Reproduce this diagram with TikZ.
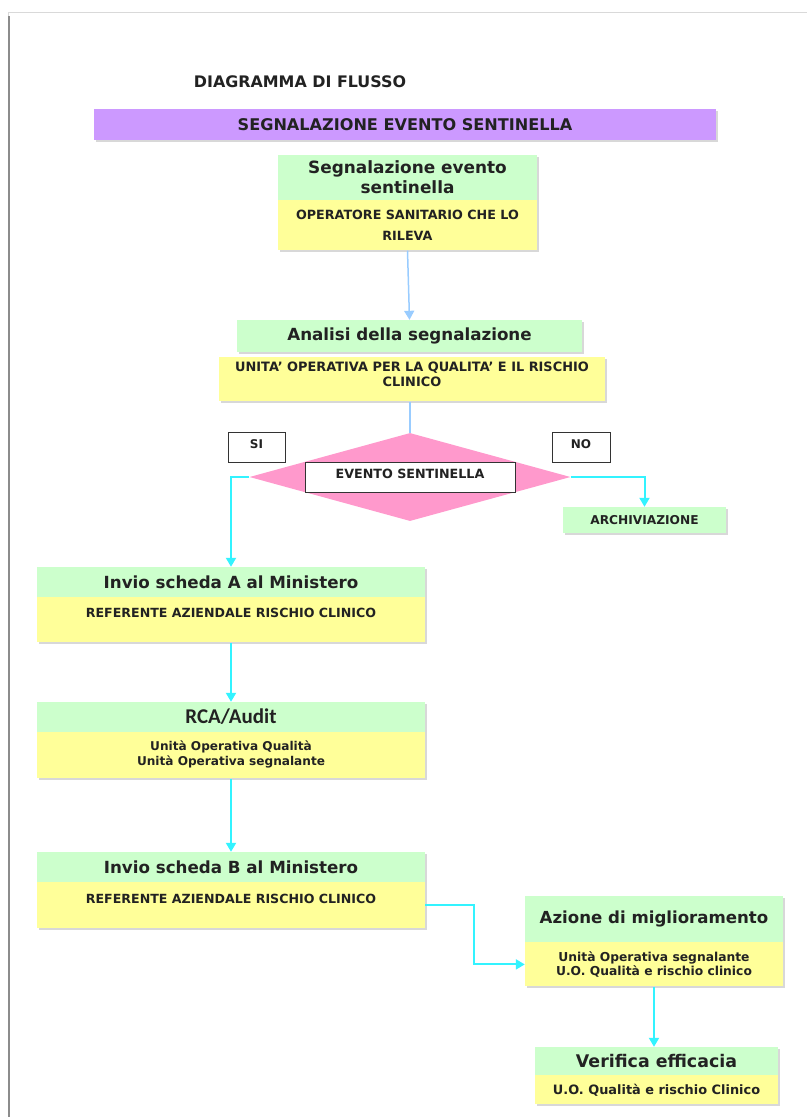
\documentclass[tikz,border=0pt]{standalone}
\usepackage{fontspec}
\setmainfont{DejaVu Sans}
\newfontfamily\calfont{Carlito}
\usepackage{xcolor}
\usetikzlibrary{arrows.meta, positioning, shapes.geometric, shadows}

\definecolor{headgreen}{HTML}{CCFFCC}
\definecolor{bodyyellow}{HTML}{FFFF99}
\definecolor{bannerpurple}{HTML}{CC99FF}
\definecolor{decpink}{HTML}{FF99CC}
\definecolor{flowcyan}{HTML}{33F3FF}
\definecolor{flowblue}{HTML}{99CCFF}
\definecolor{inkgray}{HTML}{222222}

\newcommand{\fs}[1]{\bfseries\fontsize{#1}{1.2\dimexpr#1pt\relax}\selectfont}

\begin{document}
\begin{tikzpicture}[
  x=1pt, y=-1pt,
  font=\bfseries, text=inkgray,
  boxshadow/.style={drop shadow={shadow xshift=2pt, shadow yshift=-2pt, fill=black!30}},
  head/.style={rectangle, fill=headgreen, boxshadow, inner sep=2pt, align=center, font=\fs{16.7}},
  body/.style={rectangle, fill=bodyyellow, boxshadow, inner sep=2pt, align=center, font=\fs{12.6}},
  tag/.style={rectangle, draw=black!80, thick, fill=white, inner sep=2pt, font=\fs{12}},
  arrow/.style={flowcyan, line width=2pt, -{Triangle[width=10pt,length=9pt]}}
]
\useasboundingbox (0,0) rectangle (807,1117);
% page edge
\draw[black!15, line width=1pt] (8,1117) -- (8,12) -- (807,12);
\draw[black!45, line width=1.5pt] (9,16) -- (9,1117);

\node[font=\fs{15.9}] (title) at (300,82) {DIAGRAMMA DI FLUSSO};
\node[rectangle, fill=bannerpurple, boxshadow, minimum width=622pt, minimum height=31pt, font=\fs{16.1}] (banner) at (405,124.5) {SEGNALAZIONE EVENTO SENTINELLA};

% segnalazione
\node[head, minimum width=259pt, minimum height=45pt, font=\fs{16.9}] (seg) at (407.5,177.5) {Segnalazione evento\\sentinella};
\node[body, below=0pt of seg, minimum width=259pt, minimum height=50pt, font=\bfseries\fontsize{12.7}{21}\selectfont] (segb) {OPERATORE SANITARIO CHE LO\\RILEVA};

% analisi
\node[head, minimum width=345pt, minimum height=32pt] (an) at (409.5,336) {Analisi della segnalazione};
\node[body, below=5pt of an, xshift=2.5pt, minimum width=386pt, minimum height=44pt, text depth=10pt, font=\fs{12.9}] (anb) {UNITA' OPERATIVA PER LA QUALITA' E IL RISCHIO\\CLINICO};

% decisione
\node[diamond, fill=decpink, minimum width=321pt, minimum height=88pt, aspect=3.65, inner sep=0pt] (dec) at (410,477) {};
\node[tag, minimum width=210pt, minimum height=30pt, text depth=6pt, font=\fs{12.7}] (ev) at (dec.center) {EVENTO SENTINELLA};
\node[tag, minimum width=57pt, minimum height=30pt, text depth=6pt] (si) at (256.5,447) {SI};
\node[tag, minimum width=58pt, minimum height=30pt, text depth=6pt] (no) at (581,447) {NO};
\node[head, minimum width=163pt, minimum height=26pt, font=\fs{12.2}] (arch) at (644.5,520) {ARCHIVIAZIONE};

% scheda A
\node[head, minimum width=388pt, minimum height=30pt] (inA) at (231,582) {Invio scheda A al Ministero};
\node[body, below=0pt of inA, minimum width=388pt, minimum height=45pt, text depth=14pt] (inAb) {REFERENTE AZIENDALE RISCHIO CLINICO};

% RCA
\node[head, minimum width=388pt, minimum height=30pt, font=\calfont\bfseries\fontsize{21}{24}\selectfont] (rca) at (231,717) {RCA/Audit};
\node[body, below=0pt of rca, minimum width=388pt, minimum height=46pt, text depth=4pt, font=\fs{12.1}] (rcab) {Unità Operativa Qualità\\Unità Operativa segnalante};

% scheda B
\node[head, minimum width=388pt, minimum height=30pt] (inB) at (231,867) {Invio scheda B al Ministero};
\node[body, below=0pt of inB, minimum width=388pt, minimum height=46pt, text depth=14pt] (inBb) {REFERENTE AZIENDALE RISCHIO CLINICO};

% azione
\node[head, minimum width=258pt, minimum height=46pt, font=\fs{16.6}] (az) at (654,919) {Azione di miglioramento};
\node[body, below=0pt of az, minimum width=258pt, minimum height=44pt, font=\fs{12.3}] (azb) {Unità Operativa segnalante\\U.O. Qualità e rischio clinico};

% verifica
\node[head, minimum width=243pt, minimum height=28pt, font=\fs{17.4}] (ver) at (656.5,1061) {Verifica efficacia};
\node[body, below=0pt of ver, minimum width=243pt, minimum height=29pt, font=\fs{12.9}] (verb) {U.O. Qualità e rischio Clinico};

% connectors
\coordinate (bend) at ([xshift=49pt]inBb.east);
\draw[flowblue, line width=1.5pt, -{Triangle[width=10pt,length=9pt]}] (segb.south) -- (an.north);
\draw[flowblue, line width=1.5pt] (anb.south -| dec.north) -- (dec.north);
\draw[arrow] (dec.west) -| (inA.north);
\draw[arrow] (dec.east) -| (arch.north);
\draw[arrow] (inAb.south) -- (rca.north);
\draw[arrow] (rcab.south) -- (inB.north);
\draw[arrow] (inBb.east) -- (bend) |- (azb.west);
\draw[arrow] (azb.south) -- (ver.north -| azb.south);
\end{tikzpicture}
\end{document}
